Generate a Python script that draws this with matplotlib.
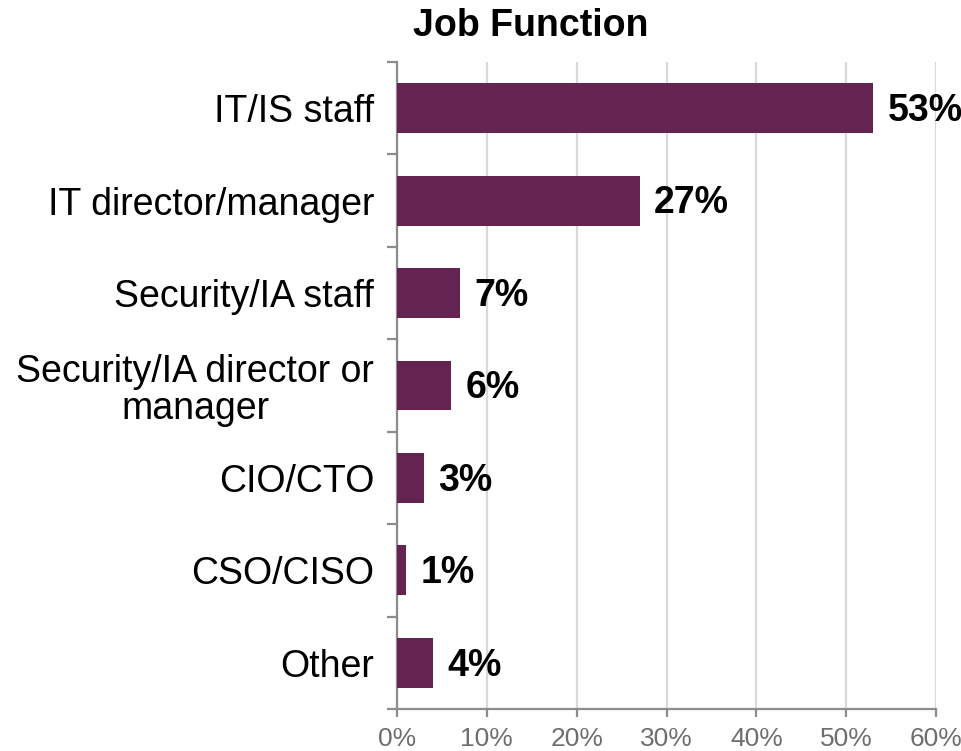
import matplotlib
matplotlib.use("Agg")
import matplotlib.pyplot as plt
import numpy as np

plt.rcParams['font.family'] = ['Liberation Sans', 'DejaVu Sans']

categories = [
    "IT/IS staff",
    "IT director/manager",
    "Security/IA staff",
    "Security/IA director or\nmanager",
    "CIO/CTO",
    "CSO/CISO",
    "Other",
]
shares = [53, 27, 7, 6, 3, 1, 4]
x_ticks = [0, 10, 20, 30, 40, 50, 60]

bar_color = "#652352"
axis_gray = "#8c8c8c"
grid_gray = "#d9d9d9"
tick_text = "#6e6e6e"

W, H, DPI = 962, 751, 100
fig = plt.figure(figsize=(W / DPI, H / DPI), dpi=DPI)
ax = fig.add_axes([397 / W, 1 - 709 / H, (936 - 397) / W, (709 - 62) / H])

n = len(categories)
ypos = np.arange(n)
ax.barh(ypos, shares, height=0.54, color=bar_color, zorder=3)

ax.set_xlim(0, 60)
ax.set_ylim(n - 0.5, -0.5)

ax.set_xticks(x_ticks)
ax.set_xticklabels([f"{v}%" for v in x_ticks])
ax.xaxis.grid(True, color=grid_gray, linewidth=1.6, zorder=0)
ax.set_axisbelow(True)

ax.set_yticks(ypos)
ax.set_yticklabels(categories, multialignment='center', linespacing=1.05)
ax.set_yticks(np.arange(-0.5, n, 1.0), minor=True)

for side in ("top", "right"):
    ax.spines[side].set_visible(False)
for side in ("left", "bottom"):
    ax.spines[side].set_color(axis_gray)
    ax.spines[side].set_linewidth(1.6)

ax.tick_params(axis='y', which='major', length=0, pad=16.5, labelsize=27,
               labelcolor='black')
ax.tick_params(axis='y', which='minor', length=7, width=1.6, color=axis_gray)
ax.tick_params(axis='x', which='major', length=6, width=1.6, color=axis_gray,
               labelsize=19, labelcolor=tick_text, pad=7)

# value labels just past the end of each bar
for y, v in zip(ypos, shares):
    ax.annotate(f"{v}%", xy=(v, y + 0.03), xytext=(10.5, 0),
                textcoords='offset points', va='center', ha='left',
                fontsize=27, fontweight='bold', color='black',
                annotation_clip=False)

fig.text(531 / W, 1 - 26 / H, "Job Function", ha='center', va='center',
         fontsize=27, fontweight='bold')

fig.savefig("out.png", dpi=DPI)
